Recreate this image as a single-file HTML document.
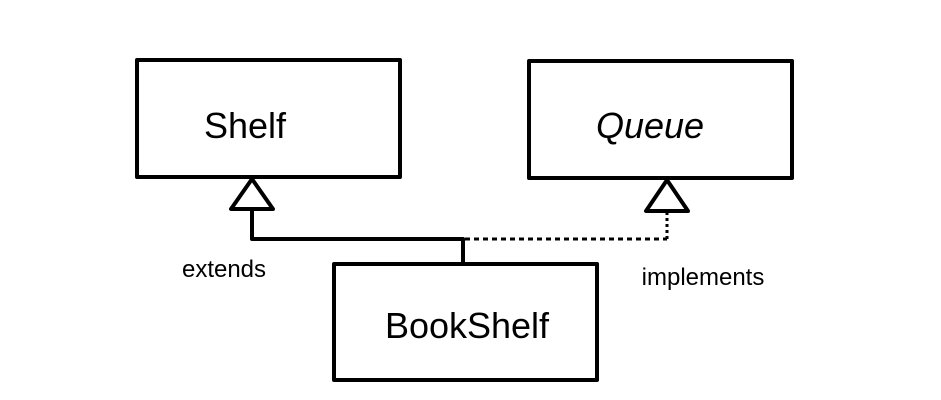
<!DOCTYPE html>
<html><head><style>
html,body{margin:0;padding:0;background:#fff;}
svg{display:block;}
text{font-family:"Liberation Sans",sans-serif;fill:#000;}
</style></head><body>
<svg width="941" height="400" viewBox="0 0 941 400" xmlns="http://www.w3.org/2000/svg">
<g fill="none" stroke="#000" stroke-width="4" stroke-linejoin="round">
<rect x="137" y="60" width="263" height="117"/>
<rect x="529" y="61" width="263" height="117"/>
<rect x="334" y="264" width="263" height="116"/>
<polygon points="252,179 231,209 273,209"/>
<polygon points="667,180 646,211 688,211"/>
<polyline points="252,209 252,239 463,239 463,264"/>
</g>
<g fill="none" stroke="#000" stroke-width="3">
<line x1="465" y1="239" x2="667" y2="239" stroke-dasharray="5,4"/>
<line x1="667" y1="239" x2="667" y2="212" stroke-dasharray="3,3"/>
</g>
<text x="245" y="138" font-size="36" text-anchor="middle">Shelf</text>
<text x="650" y="138" font-size="36" font-style="italic" text-anchor="middle">Queue</text>
<text x="467" y="338" font-size="36" text-anchor="middle">BookShelf</text>
<text x="224" y="277" font-size="24" text-anchor="middle">extends</text>
<text x="703" y="285" font-size="24" text-anchor="middle">implements</text>
</svg>
</body></html>
